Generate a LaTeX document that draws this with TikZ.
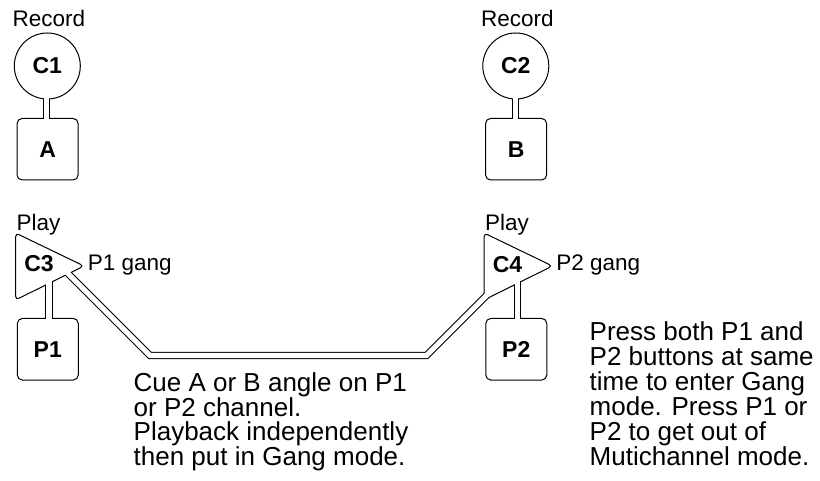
\documentclass[tikz,border=0pt]{standalone}
\usepackage{fontspec}
\setmainfont{Liberation Sans}
\newcommand\desclines[1]{\vtop{\fontsize{26}{25}\selectfont\lineskiplimit=-50pt\relax #1}}
\begin{document}
\begin{tikzpicture}[x=1pt,y=-1pt,line width=1pt,
  circ/.style={circle,draw,fill=white,minimum size=66pt,inner sep=0pt,outer sep=0pt,font=\fontsize{23}{27}\selectfont\bfseries},
  sqbox/.style={rectangle,rounded corners=5pt,draw,fill=white,minimum width=61pt,minimum height=61.5pt,inner sep=0pt,outer sep=0pt,font=\fontsize{23}{27}\selectfont\bfseries},
  tri/.style={draw,fill=white,rounded corners=4pt},
  lbl/.style={inner sep=0pt,outer sep=0pt,font=\fontsize{22.5}{27}\selectfont},
  boldlbl/.style={inner sep=0pt,outer sep=0pt,font=\fontsize{23}{27}\selectfont\bfseries},
  desc/.style={inner sep=0pt,outer sep=0pt,anchor=base west},
  pipeout/.style={line width=7.6pt},
  pipein/.style={draw=white,line width=5.6pt}]
\useasboundingbox (0,0) rectangle (820,481);

% ---------- left column ----------
\node[lbl,anchor=base] (rec1) at (48.8,27) {Record};
\node[circ] (c1) at (47.3,66) {C1};
\node[sqbox] (a) at (47.6,149.25) {A};
\node[lbl,anchor=base west] (play1) at (16.5,231) {Play};
\draw[tri] (15.5,233) -- (15.5,300) -- (84,266) -- cycle;
\node[boldlbl] (c3) at (39,264) {C3};
\node[lbl,anchor=base west] (g1) at (87.8,271) {P1 gang};
\node[sqbox] (p1) at (47.8,349.25) {P1};

% ---------- right column ----------
\node[lbl,anchor=base] (rec2) at (517.3,27) {Record};
\node[circ] (c2) at (515.8,66) {C2};
\node[sqbox] (b) at (516.1,149.25) {B};
\node[lbl,anchor=base west] (play2) at (485,231) {Play};
\draw[tri] (484,233) -- (484,300) -- (552.5,266) -- cycle;
\node[boldlbl] (c4) at (507.5,265) {C4};
\node[lbl,anchor=base west] (g2) at (556.3,271) {P2 gang};
\node[sqbox] (p2) at (516.3,349.25) {P2};

% ---------- connector end points ----------
\coordinate (c1s) at (46.5,92);   \coordinate (as)  at (46.5,125);
\coordinate (c2s) at (515.5,92);  \coordinate (bs)  at (515.5,125);
\coordinate (c3s) at (49,278);    \coordinate (p1s) at (49,325);
\coordinate (c4s) at (517.5,278); \coordinate (p2s) at (517.5,325);
\coordinate (g1s) at (62,267.5);  \coordinate (k1) at (150,355.5);
\coordinate (k2) at (426.5,355.5); \coordinate (g2s) at (492,290);

% ---------- pipes: outer borders, clipped outside the shapes ----------
\begin{scope}
\clip (-10,-10) -- (830,-10) -- (830,491) -- (-10,491) -- cycle
  (14,33) -- (14,98.9) -- (81,98.9) -- (81,33) -- cycle
  (17,118.5) -- (17,180) -- (78.2,180) -- (78.2,118.5) -- cycle
  (15.5,233) -- (15.5,300) -- (84,266) -- cycle
  (17.3,318.5) -- (17.3,380) -- (78.3,380) -- (78.3,318.5) -- cycle
  (482.5,33) -- (482.5,98.9) -- (549.5,98.9) -- (549.5,33) -- cycle
  (485.5,118.5) -- (485.5,180) -- (546.7,180) -- (546.7,118.5) -- cycle
  (484,233) -- (484,300) -- (552.5,266) -- cycle
  (485.8,318.5) -- (485.8,380) -- (546.8,380) -- (546.8,318.5) -- cycle;
\draw[pipeout] (c1s) -- (as);
\draw[pipeout] (c2s) -- (bs);
\draw[pipeout] (c3s) -- (p1s);
\draw[pipeout] (c4s) -- (p2s);
\draw[pipeout,line width=7.2pt] (g1s) -- (k1) -- (k2) -- (g2s);
\end{scope}
% ---------- pipes: white cores ----------
\draw[pipein] (c1s) -- (as);
\draw[pipein] (c2s) -- (bs);
\draw[pipein] (c3s) -- (p1s);
\draw[pipein] (c4s) -- (p2s);
\draw[pipein,line width=5.2pt] (g1s) -- (k1) -- (k2) -- (g2s);

% ---------- descriptions ----------
\node[desc] (d1) at (133.7,391) {\desclines{\hbox{Cue A or B angle on P1}\hbox{or P2 channel.}\hbox{Playback independently}\hbox{then put in Gang mode.}}};
\node[desc] (d2) at (589.7,341) {\desclines{\hbox{Press both P1 and}\hbox{P2 buttons at same}\hbox{time to enter Gang}\hbox{mode. Press P1 or}\hbox{P2 to get out of}\hbox{Mutichannel mode.}}};
\end{tikzpicture}
\end{document}
